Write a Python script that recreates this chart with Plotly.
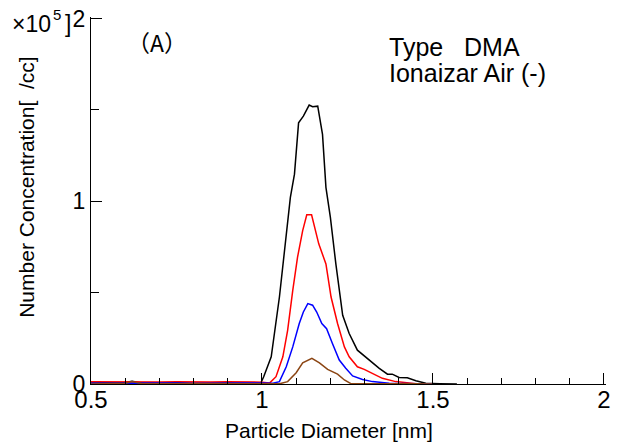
import plotly.graph_objects as go

# Particle diameter [nm] and number concentration [x10^5 /cc]
black_x = [0.50, 0.55, 0.60, 0.62, 0.65, 0.70, 0.75, 0.80, 0.85, 0.90, 0.95, 0.996, 1.005, 1.027, 1.051, 1.066,
           1.083, 1.095, 1.107, 1.121, 1.138, 1.148, 1.163, 1.177, 1.187, 1.200, 1.216, 1.236,
           1.255, 1.279, 1.313, 1.343, 1.367, 1.381, 1.401, 1.425, 1.450, 1.479, 1.52, 1.57]
black_y = [0.005, 0.006, 0.008, 0.015, 0.006, 0.005, 0.007, 0.004, 0.006, 0.005, 0.004, 0.003, 0.04, 0.149, 0.476, 0.730,
           1.021, 1.148, 1.429, 1.466, 1.526, 1.517, 1.520, 1.366, 1.076, 0.912, 0.657, 0.376,
           0.276, 0.185, 0.131, 0.086, 0.054, 0.054, 0.036, 0.034, 0.018, 0.004, 0.002, 0.0]

red_x = [0.50, 0.55, 0.60, 0.65, 0.70, 0.75, 0.80, 0.85, 0.90, 0.95, 1.00, 1.022, 1.041, 1.061, 1.075, 1.090,
         1.104, 1.119, 1.131, 1.145, 1.166, 1.187, 1.202, 1.221, 1.241, 1.255, 1.279,
         1.299, 1.323, 1.352, 1.391, 1.450, 1.50]
red_y = [0.012, 0.011, 0.012, 0.010, 0.011, 0.012, 0.010, 0.011, 0.012, 0.011, 0.010, 0.005, 0.040, 0.149, 0.294, 0.512,
         0.694, 0.839, 0.926, 0.926, 0.767, 0.657, 0.476, 0.331, 0.203, 0.149, 0.094,
         0.080, 0.058, 0.031, 0.013, 0.002, 0.0]

blue_x = [0.50, 0.55, 0.60, 0.65, 0.70, 0.75, 0.80, 0.85, 0.90, 0.95, 1.00, 1.032, 1.051, 1.071, 1.090, 1.109,
          1.121, 1.134, 1.148, 1.160, 1.175, 1.189, 1.206, 1.226, 1.245, 1.265, 1.294,
          1.323, 1.372, 1.450, 1.50]
blue_y = [0.004, 0.005, 0.003, 0.006, 0.004, 0.005, 0.003, 0.005, 0.004, 0.006, 0.005, 0.004, 0.013, 0.094, 0.203, 0.331,
          0.394, 0.440, 0.431, 0.394, 0.331, 0.303, 0.222, 0.131, 0.086, 0.044, 0.025,
          0.013, 0.004, 0.001, 0.0]

brown_x = [0.50, 0.55, 0.60, 0.62, 0.65, 0.70, 0.75, 0.80, 0.85, 0.90, 0.95, 1.00, 1.051, 1.075, 1.100, 1.119,
           1.146, 1.168, 1.192, 1.221, 1.241, 1.260, 1.30, 1.35, 1.40, 1.45, 1.50]
brown_y = [0.0, 0.002, 0.004, 0.014, 0.002, 0.001, 0.003, 0.001, 0.002, 0.004, 0.002, 0.001, 0.001, 0.013, 0.062, 0.116,
           0.140, 0.116, 0.080, 0.054, 0.022, 0.002, 0.001, 0.002, 0.001, 0.001, 0.0]

series = [
    ("black", black_x, black_y),
    ("#ff0000", red_x, red_y),
    ("#0000ff", blue_x, blue_y),
    ("#8b4513", brown_x, brown_y),
]

x_ticks = [0.5, 1, 1.5, 2]
x_ticklabels = ["0.5", "1", "1.5", "2"]
y_ticks = [0, 1, 2]
y_ticklabels = ["0", "1", "2"]

fig = go.Figure()
for color, xs, ys in series:
    fig.add_trace(go.Scatter(x=xs, y=ys, mode="lines", cliponaxis=True,
                             line=dict(color=color, width=1.5), showlegend=False))

font_main = "Liberation Sans, Arial, sans-serif"

# the page body has an 8px margin, so the figure is offset by 8px inside the window
fig.update_layout(
    width=615, height=435,
    margin=dict(l=83, r=17, t=9, b=59),
    paper_bgcolor="white", plot_bgcolor="white",
    font=dict(family=font_main, color="black"),
    xaxis=dict(range=[0.5, 2.006], tickvals=x_ticks, ticktext=x_ticklabels, automargin=False,
               ticklabeloverflow="allow",
               showgrid=False, zeroline=False, showline=True, linecolor="black", linewidth=1.2,
               ticks="inside", ticklen=11, tickcolor="black", tickwidth=1.2,
               tickfont=dict(size=24, family=font_main), ticklabelstandoff=-6,
               minor=dict(dtick=0.1, ticks="inside", ticklen=6, tickcolor="black", tickwidth=1)),
    yaxis=dict(range=[0, 2.008], tickvals=y_ticks, ticktext=y_ticklabels, automargin=False,
               ticklabeloverflow="allow",
               showgrid=False, zeroline=False, showline=True, linecolor="black", linewidth=1.2,
               ticks="inside", ticklen=11, tickcolor="black", tickwidth=1.2,
               tickfont=dict(size=23, family=font_main),
               minor=dict(dtick=0.5, ticks="inside", ticklen=8, tickcolor="black", tickwidth=1)),
)

fig.add_annotation(text="Particle Diameter [nm]",
                   xref="paper", yref="paper", x=0.462, y=-0.128,
                   showarrow=False, font=dict(size=21, family=font_main),
                   xanchor="center", yanchor="middle")
fig.add_annotation(text="Number Concentration[  /cc]", textangle=-90,
                   xref="paper", yref="paper", x=-0.124, y=0.535,
                   showarrow=False, font=dict(size=21, family=font_main),
                   xanchor="center", yanchor="middle")
# unit multiplier "×10^5]" drawn in three parts so the superscript stays inside the page
fig.add_annotation(text="×10", xref="paper", yref="paper", x=-0.157, y=0.980,
                   showarrow=False, font=dict(size=23, family=font_main),
                   xanchor="left", yanchor="middle")
fig.add_annotation(text="5", xref="paper", yref="paper", x=-0.078, y=1.007,
                   showarrow=False, font=dict(size=15, family=font_main),
                   xanchor="left", yanchor="middle")
fig.add_annotation(text="]", xref="paper", yref="paper", x=-0.054, y=0.980,
                   showarrow=False, font=dict(size=23, family=font_main),
                   xanchor="left", yanchor="middle")
fig.add_annotation(text="（A）", xref="paper", yref="paper", x=0.066, y=0.932,
                   showarrow=False, font=dict(size=23, family="Noto Sans CJK JP, " + font_main),
                   xanchor="left", yanchor="middle")
fig.add_annotation(text="Type   DMA", xref="paper", yref="paper",
                   x=0.574, y=0.918, align="left",
                   showarrow=False, font=dict(size=25, family=font_main),
                   xanchor="left", yanchor="middle")
fig.add_annotation(text="Ionaizar Air (-)", xref="paper", yref="paper",
                   x=0.574, y=0.847, align="left",
                   showarrow=False, font=dict(size=25, family=font_main),
                   xanchor="left", yanchor="middle")

fig.write_html("out.html")
